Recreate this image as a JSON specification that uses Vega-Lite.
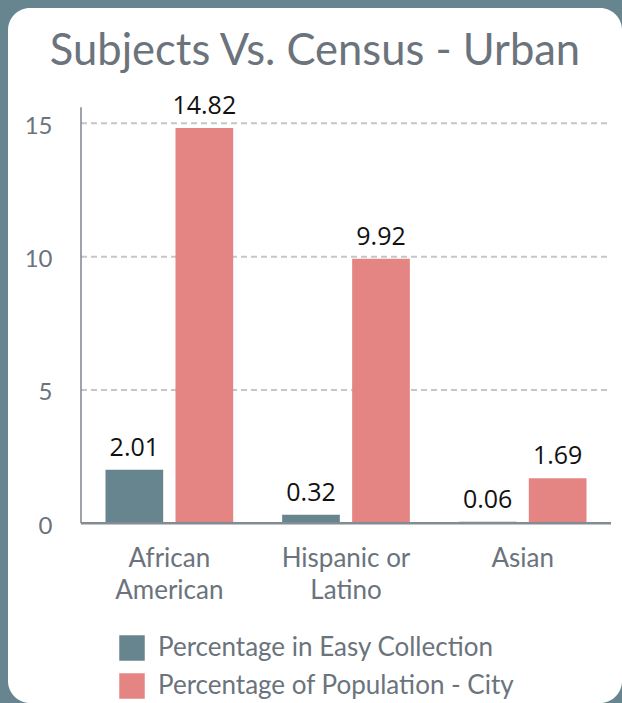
{
  "$schema": "https://vega.github.io/schema/vega-lite/v6.json",
  "width": 614,
  "height": 695,
  "autosize": {"type": "none"},
  "padding": {"left": 8, "top": 8, "right": 0, "bottom": 0},
  "background": "#67858f",
  "config": {
    "view": {"fill": "white", "stroke": null, "cornerRadius": 22}
  },
  "title": {
    "text": "Subjects Vs. Census - Urban",
    "font": "Lato",
    "fontSize": 43.5,
    "fontWeight": "normal",
    "color": "#6b737c",
    "anchor": "middle",
    "baseline": "alphabetic",
    "offset": -100
  },
  "datasets": {
    "bars": [
      {"group": "African American", "series": "Percentage in Easy Collection", "value": 2.01},
      {"group": "African American", "series": "Percentage of Population - City", "value": 14.82},
      {"group": "Hispanic or Latino", "series": "Percentage in Easy Collection", "value": 0.32},
      {"group": "Hispanic or Latino", "series": "Percentage of Population - City", "value": 9.92},
      {"group": "Asian", "series": "Percentage in Easy Collection", "value": 0.06},
      {"group": "Asian", "series": "Percentage of Population - City", "value": 1.69}
    ],
    "grid": [{"v": 5}, {"v": 10}, {"v": 15}],
    "yline": [{"from": 0, "to": 15.6}],
    "base": [{"v": 0}]
  },
  "layer": [
    {
      "data": {"name": "grid"},
      "mark": {"type": "rule", "color": "#c6c6c6", "strokeWidth": 2, "strokeDash": [6, 4]},
      "encoding": {
        "x": {"datum": "African American", "type": "nominal", "bandPosition": 0},
        "x2": {"datum": "Asian", "bandPosition": 1},
        "y": {"field": "v", "type": "quantitative"}
      }
    },
    {
      "data": {"name": "yline"},
      "mark": {"type": "rule", "color": "#7d858d", "strokeWidth": 1.5},
      "encoding": {
        "x": {"datum": "African American", "type": "nominal", "bandPosition": 0},
        "y": {"field": "from", "type": "quantitative"},
        "y2": {"field": "to"}
      }
    },
    {
      "data": {"name": "bars"},
      "mark": {"type": "bar"},
      "encoding": {
        "x": {
          "field": "group",
          "type": "nominal",
          "scale": {
            "domain": ["African American", "Hispanic or Latino", "Asian"],
            "paddingInner": 0,
            "paddingOuter": 0.23774,
            "align": 0.86905
          },
          "axis": {
            "orient": "bottom",
            "offset": -179.7,
            "title": null,
            "domain": false,
            "ticks": false,
            "tickSize": 0,
            "labelAngle": 0,
            "labelAlign": "center",
            "labelBaseline": "top",
            "labelFont": "Lato",
            "labelFontSize": 26,
            "labelColor": "#6b737c",
            "labelPadding": 22,
            "labelLineHeight": 32,
            "labelExpr": "datum.value == 'African American' ? ['African', 'American'] : datum.value == 'Hispanic or Latino' ? ['Hispanic or', 'Latino'] : datum.value"
          }
        },
        "xOffset": {
          "field": "series",
          "type": "nominal",
          "scale": {
            "domain": ["Percentage in Easy Collection", "Percentage of Population - City"],
            "paddingInner": 0.1757,
            "paddingOuter": 0.3497
          }
        },
        "y": {
          "field": "value",
          "type": "quantitative",
          "scale": {"domain": [-6.739, 19.324], "nice": false, "zero": false},
          "axis": {
            "orient": "left",
            "offset": -73,
            "title": null,
            "values": [0, 5, 10, 15],
            "domain": false,
            "ticks": false,
            "tickSize": 0,
            "grid": false,
            "labelFont": "Lato",
            "labelFontSize": 24,
            "labelColor": "#6b737c",
            "labelPadding": 29,
            "labelOffset": 3
          }
        },
        "color": {
          "field": "series",
          "type": "nominal",
          "scale": {
            "domain": ["Percentage in Easy Collection", "Percentage of Population - City"],
            "range": ["#67858f", "#e58583"]
          },
          "legend": {
            "orient": "none",
            "legendX": 111,
            "legendY": 627,
            "padding": 0,
            "title": null,
            "symbolType": "square",
            "symbolSize": 650,
            "symbolStrokeWidth": 0,
            "symbolOpacity": 1,
            "labelFont": "Lato",
            "labelFontSize": 26,
            "labelColor": "#6b737c",
            "labelOffset": 13,
            "labelLimit": 0,
            "rowPadding": 12
          }
        }
      }
    },
    {
      "data": {"name": "base"},
      "mark": {"type": "rule", "color": "#838b93", "strokeWidth": 2.5},
      "encoding": {
        "x": {"datum": "African American", "type": "nominal", "bandPosition": 0},
        "x2": {"datum": "Asian", "bandPosition": 1},
        "y": {"field": "v", "type": "quantitative"}
      }
    },
    {
      "data": {"name": "bars"},
      "mark": {"type": "text", "font": "Open Sans", "fontSize": 25, "color": "#111111", "baseline": "alphabetic", "dy": -14},
      "encoding": {
        "x": {"field": "group", "type": "nominal"},
        "xOffset": {"field": "series", "type": "nominal"},
        "y": {"field": "value", "type": "quantitative"},
        "text": {"field": "value", "type": "quantitative", "format": ".2f"}
      }
    }
  ]
}
